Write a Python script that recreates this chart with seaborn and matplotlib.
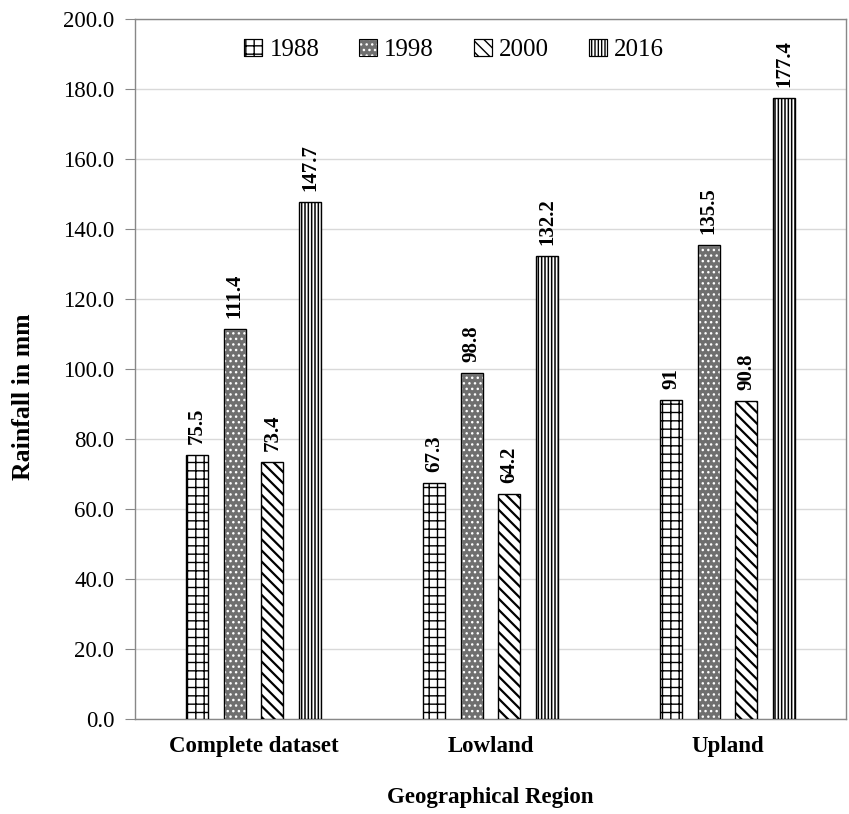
import matplotlib
matplotlib.use("Agg")
import matplotlib.pyplot as plt
import seaborn as sns
import pandas as pd
from matplotlib.patches import Rectangle
from matplotlib.legend_handler import HandlerTuple

regions = ["Complete dataset", "Lowland", "Upland"]
years = ["1988", "1998", "2000", "2016"]
rain_1988 = [75.5, 67.3, 91]
rain_1998 = [111.4, 98.8, 135.5]
rain_2000 = [73.4, 64.2, 90.8]
rain_2016 = [147.7, 132.2, 177.4]
yticks = [0, 20, 40, 60, 80, 100, 120, 140, 160, 180, 200]

series = [rain_1988, rain_1998, rain_2000, rain_2016]
df = pd.DataFrame({
    "Region": [r for s in series for r in regions],
    "Year": [y for y, s in zip(years, series) for _ in regions],
    "Rainfall": [v for s in series for v in s],
})

sns.set_style("white")
plt.rcParams["font.family"] = ["Liberation Serif", "DejaVu Serif"]
plt.rcParams["text.color"] = "black"
plt.rcParams["axes.labelcolor"] = "black"
plt.rcParams["hatch.linewidth"] = 1.0

fig = plt.figure(figsize=(8.49, 8.14), dpi=100)
ax = fig.add_axes([0.159, 0.1167, 0.8375, 0.86])

sns.barplot(data=df, x="Region", y="Rainfall", hue="Year", order=regions,
            hue_order=years, width=0.636, gap=0.415, dodge=True,
            color="white", edgecolor="black", linewidth=1.0,
            ax=ax, legend=False, zorder=3)

# fill styles per year
styles = {
    "1988": dict(face="white", hatch="++", hcol="black", lw=1.0),
    "1998": dict(face="#6f6f6f", hatch="...", hcol="white", lw=1.0),
    "2000": dict(face="white", hatch="\\\\\\", hcol="black", lw=1.6),
    "2016": dict(face="white", hatch="|||||", hcol="black", lw=1.1),
}

handles = []
for cont, yr in zip(ax.containers, years):
    st = styles[yr]
    for p in cont.patches:
        p.set_facecolor(st["face"])
        p.set_hatch(st["hatch"])
        p.set_edgecolor(st["hcol"])
        if hasattr(p, "set_hatch_linewidth"):
            p.set_hatch_linewidth(st["lw"])
        if st["hcol"] != "black":
            ax.add_patch(Rectangle(p.get_xy(), p.get_width(), p.get_height(),
                                   fill=False, edgecolor="black", linewidth=1.0,
                                   zorder=4))
    fill = Rectangle((0, 0), 1, 1, facecolor=st["face"], hatch=st["hatch"],
                     edgecolor=st["hcol"], linewidth=0.8)
    outline = Rectangle((0, 0), 1, 1, fill=False, edgecolor="black",
                        linewidth=0.8)
    handles.append((fill, outline))
    labels = [f"{v:g}" for v in series[years.index(yr)]]
    ax.bar_label(cont, labels=labels, rotation=90, padding=8,
                 fontsize=15, fontweight="bold", color="black")

ax.set_ylim(0, 200)
ax.set_xlim(-0.5, 2.5)
ax.set_yticks(yticks)
ax.set_yticklabels([f"{t:.1f}" for t in yticks], fontsize=16.5)
ax.yaxis.grid(True, color="#d9d9d9", linewidth=1.0, zorder=0)
ax.set_axisbelow(True)
ax.tick_params(axis="y", which="major", length=7, color="#888888",
               labelcolor="black", direction="out", left=True, pad=8)
ax.tick_params(axis="x", length=0, pad=12, labelcolor="black")
for lab in ax.get_xticklabels():
    lab.set_fontsize(16.5)
    lab.set_fontweight("bold")
for sp in ax.spines.values():
    sp.set_color("#888888")
    sp.set_linewidth(1.0)

ax.set_xlabel("Geographical Region", fontsize=16.5, fontweight="bold",
              labelpad=22)
ax.set_ylabel("Rainfall in mm", fontsize=18.5, fontweight="bold")
ax.yaxis.set_label_coords(-0.140, 0.461)

ax.legend(handles, years, loc="center", ncol=4, frameon=False,
          fontsize=18, handlelength=0.7, handleheight=0.7,
          handletextpad=0.3, columnspacing=1.6,
          handler_map={tuple: HandlerTuple(ndivide=1, pad=0)},
          bbox_to_anchor=(0.449, 0.956))

fig.savefig("out.png", dpi=100)
